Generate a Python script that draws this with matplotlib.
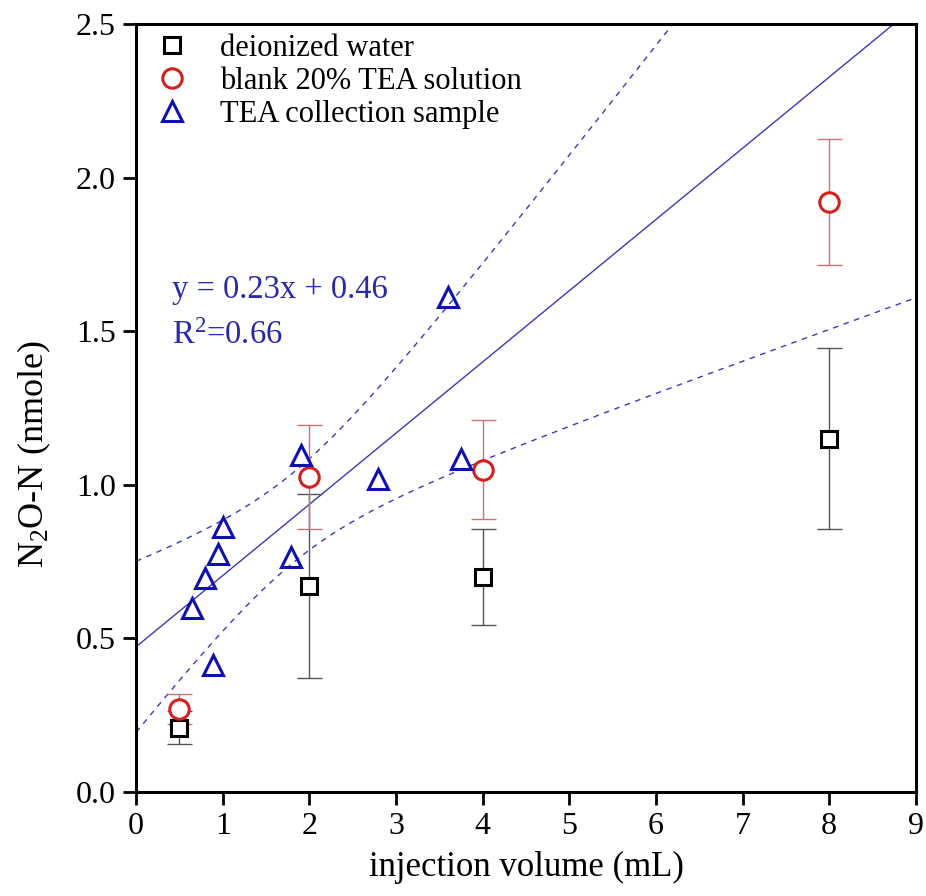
import numpy as np
import matplotlib
matplotlib.use("Agg")
import matplotlib.pyplot as plt

plt.rcParams['font.family'] = ['Liberation Serif', 'DejaVu Serif']
plt.rcParams['mathtext.fontset'] = 'custom'
plt.rcParams['mathtext.rm'] = 'Liberation Serif'
plt.rcParams['mathtext.it'] = 'Liberation Serif:italic'

# deionized water
water_x = [0.5, 2, 4, 8]
water_y = [0.21, 0.67, 0.70, 1.15]
water_err = [0.055, 0.30, 0.155, 0.295]

# blank 20% TEA solution
blank_x = [0.5, 2, 4, 8]
blank_y = [0.27, 1.025, 1.05, 1.92]
blank_err = [0.05, 0.17, 0.16, 0.205]

# TEA collection sample
tea_x = [0.65, 0.80, 0.89, 0.94, 1.00, 1.79, 1.90, 2.79, 3.60, 3.75]
tea_y = [0.60, 0.697, 0.413, 0.775, 0.864, 0.765, 1.097, 1.02, 1.612, 1.086]

# linear fit with 95% confidence band
tx = np.array(tea_x)
ty = np.array(tea_y)
slope, icpt = np.polyfit(tx, ty, 1)
n = len(tx)
resid = ty - (slope * tx + icpt)
s = np.sqrt(np.sum(resid ** 2) / (n - 2))
sxx = np.sum((tx - tx.mean()) ** 2)
t_val = 2.306  # t(0.975, 8)
xf = np.linspace(0, 9, 300)
yf = slope * xf + icpt
half = t_val * s * np.sqrt(1 / n + (xf - tx.mean()) ** 2 / sxx)

fig = plt.figure(figsize=(9.26, 8.96), dpi=100)
ax = fig.add_axes([0.147, 0.116, 0.842, 0.857])

line_c = '#3a3ab8'
ax.plot(xf, yf, color=line_c, lw=1.0)
ax.plot(xf, yf + half, color=line_c, lw=1.0, ls=(0, (4, 4)))
ax.plot(xf, yf - half, color=line_c, lw=1.0, ls=(0, (4, 4)))

ax.errorbar(water_x, water_y, yerr=water_err, fmt='none', ecolor='#555555',
            elinewidth=1.0, capsize=9, capthick=1.0)
ax.errorbar(blank_x, blank_y, yerr=blank_err, fmt='none', ecolor='#d07070',
            elinewidth=1.0, capsize=9, capthick=1.0)

ax.plot(water_x, water_y, 's', ms=12, mfc='white', mec='black', mew=2.2,
        label='deionized water', ls='none')
ax.plot(blank_x, blank_y, 'o', ms=14, mfc='white', mec='#d42020', mew=2.2,
        label='blank 20% TEA solution', ls='none')
ax.plot(tea_x, tea_y, '^', ms=15, mfc='none', mec='#1010b0', mew=2.2,
        label='TEA collection sample', ls='none')

ax.text(0.415, 1.61, 'y = 0.23x + 0.46', color='#2a2aa8', fontsize=23.5,
        va='baseline')
ax.text(0.415, 1.46, 'R$^2$=0.66', color='#2a2aa8', fontsize=23.5,
        va='baseline')

ax.set_xlim(0, 9)
ax.set_ylim(0, 2.5)
ax.set_xticks(range(0, 10))
ax.set_yticks([0.0, 0.5, 1.0, 1.5, 2.0, 2.5])
ax.set_yticklabels(['0.0', '0.5', '1.0', '1.5', '2.0', '2.5'])
ax.tick_params(direction='out', length=9.5, width=2, labelsize=23, pad=5,
               top=False, right=False)
for sp in ax.spines.values():
    sp.set_linewidth(2.2)

ax.set_xlabel('injection volume (mL)', fontsize=25, labelpad=7)
ax.set_ylabel('N$_2$O-N (nmole)', fontsize=26)
ax.yaxis.set_label_coords(-0.106, 0.44)

ax.legend(loc='upper left', frameon=False, fontsize=22, handlelength=1.0,
          handletextpad=1.05, borderaxespad=0, borderpad=0, labelspacing=0.12,
          bbox_to_anchor=(0.027, 0.987))

fig.savefig('out.png', dpi=100)
